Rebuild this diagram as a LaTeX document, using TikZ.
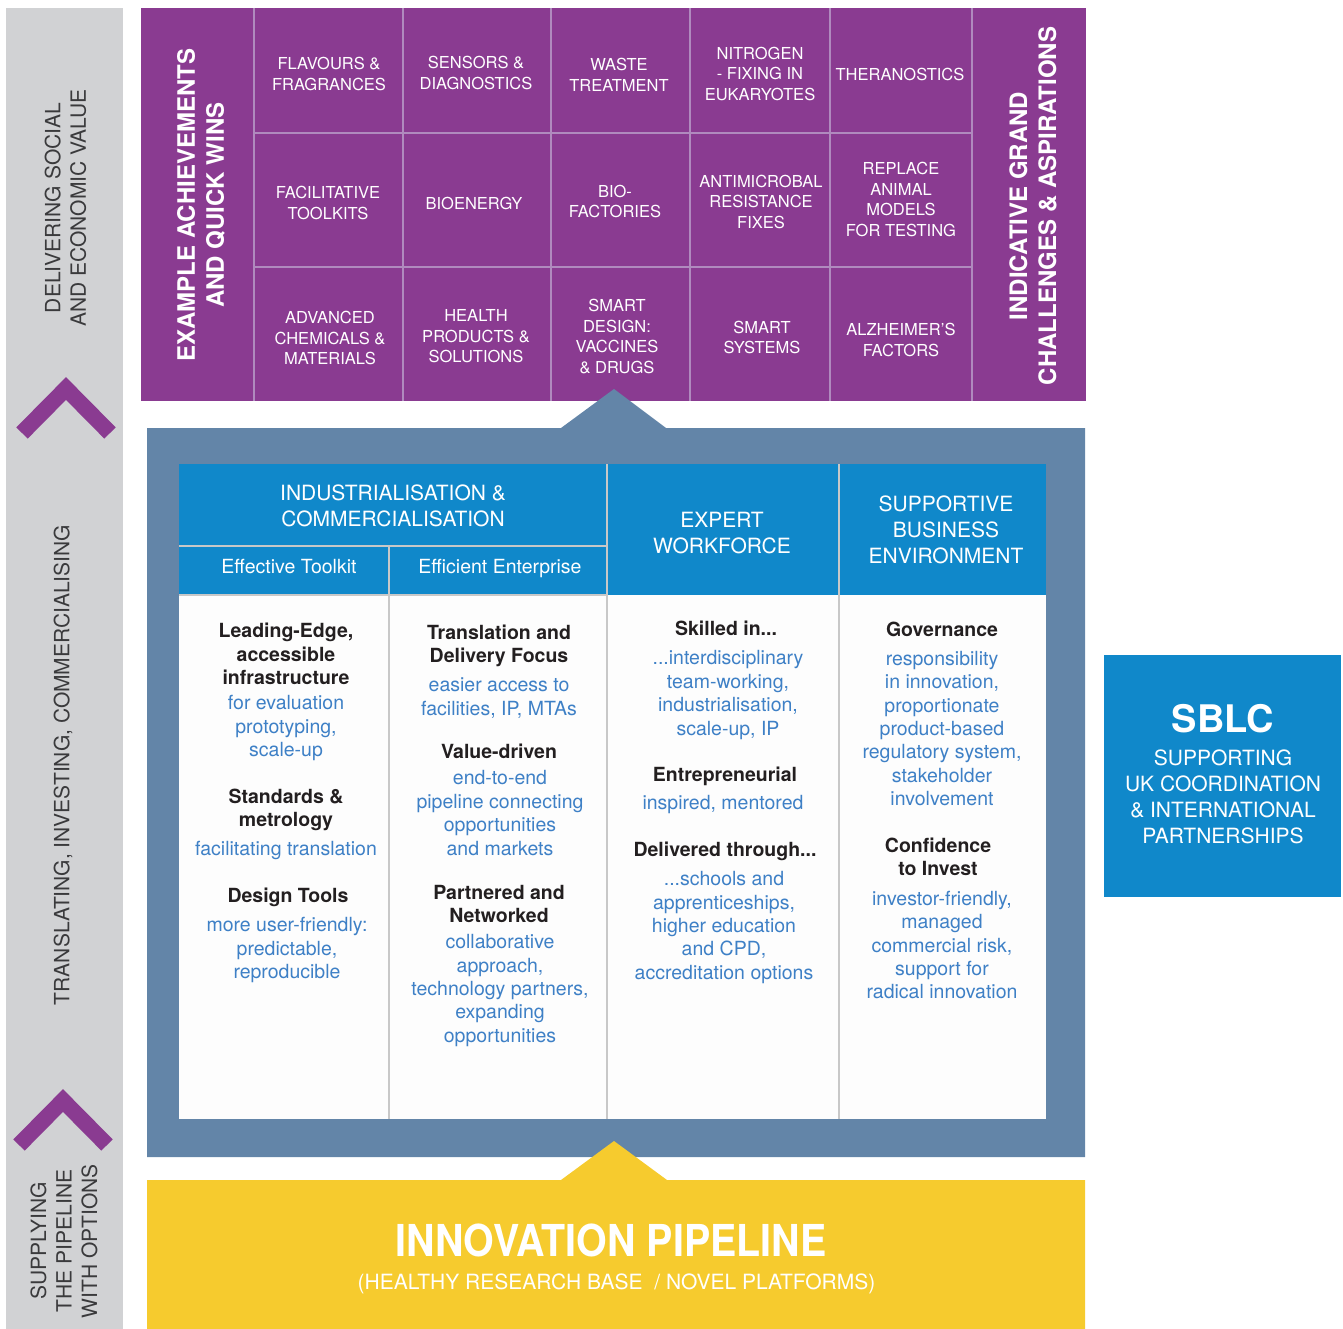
\documentclass[tikz,border=0pt]{standalone}
\usepackage{fontspec}
\setmainfont{TeX Gyre Heros}
\usepackage{tikz}
\definecolor{roadpurple}{RGB}{138,59,145}
\definecolor{roadline}{RGB}{176,138,190}
\definecolor{roadgray}{RGB}{209,210,212}
\definecolor{roadframe}{RGB}{99,133,168}
\definecolor{roadblue}{RGB}{16,136,202}
\definecolor{roadyellow}{RGB}{246,203,46}
\definecolor{roadtext}{RGB}{35,31,32}
\definecolor{roadlink}{RGB}{62,128,198}
\definecolor{roaddiv}{RGB}{200,200,200}
\definecolor{roadwhite}{RGB}{253,253,253}
\definecolor{striptext}{RGB}{58,58,60}

\begin{document}
\begin{tikzpicture}[x=1pt,y=-1pt,
	cell/.style={text=white, align=center, inner sep=0pt, font=\fontsize{16.5}{20.5}\selectfont},
	bigtitle/.style={text=white, align=center, inner sep=0pt, rotate=90, font=\bfseries\fontsize{24}{29}\selectfont},
	striplabel/.style={text=striptext, align=center, inner sep=0pt, rotate=90, font=\fontsize{21}{25.5}\selectfont},
	headtext/.style={text=white, align=center, inner sep=0pt, font=\fontsize{21}{26}\selectfont},
	subhead/.style={text=white, inner sep=0pt, font=\fontsize{19.5}{23}\selectfont},
	keyword/.style={text=roadtext, align=center, inner sep=0pt, font=\bfseries\fontsize{19.5}{23.5}\selectfont},
	detail/.style={text=roadlink, align=center, inner sep=0pt, font=\fontsize{19.5}{23.4}\selectfont},
	chevron/.style={draw=roadpurple, line width=16pt, miter limit=10},
]
\useasboundingbox (0,0) rectangle (1343,1329);

% Draw left strip
\fill[roadgray] (6,8) rectangle (123,1329);
\draw[chevron] (22,433) -- (66,388.5) -- (110,433);
\draw[chevron] (19,1145) -- (63,1100.5) -- (107,1145);
\node[striplabel] (deliver) at (65.5,208) {DELIVERING SOCIAL\\AND ECONOMIC VALUE};
\node[striplabel] (translate) at (63,765) {TRANSLATING, INVESTING, COMMERCIALISING};
\node[striplabel] (supply) at (64,1241) {SUPPLYING\\THE PIPELINE\\WITH OPTIONS};

% Draw achievements grid
\fill[roadpurple] (141,8) rectangle (1086,401);
\foreach \xline in {254,403,551,690,830,972}
	\draw[roadline, line width=2.5pt] (\xline,8) -- (\xline,401);
\foreach \yline in {133,267}
	\draw[roadline, line width=2.5pt] (254,\yline) -- (972,\yline);
\node[bigtitle] (quickwins) at (201,205) {EXAMPLE ACHIEVEMENTS\\AND QUICK WINS};
\node[bigtitle] (grand) at (1033,206) {INDICATIVE GRAND\\CHALLENGES \& ASPIRATIONS};

\node[cell] (flavours) at (329,74) {FLAVOURS \&\\FRAGRANCES};
\node[cell] (sensors) at (476,73) {SENSORS \&\\DIAGNOSTICS};
\node[cell] (waste) at (619,75) {WASTE\\TREATMENT};
\node[cell] (nitrogen) at (760,73.5) {NITROGEN\\- FIXING IN\\EUKARYOTES};
\node[cell] (theranostics) at (900,74) {THERANOSTICS};
\node[cell] (toolkits) at (328,203) {FACILITATIVE\\TOOLKITS};
\node[cell] (bioenergy) at (474,203) {BIOENERGY};
\node[cell] (biofactories) at (615,201.5) {BIO-\\FACTORIES};
\node[cell] (antimicrobal) at (761,201.5) {ANTIMICROBAL\\RESISTANCE\\FIXES};
\node[cell] (animal) at (901,199.5) {REPLACE\\ANIMAL\\MODELS\\FOR TESTING};
\node[cell] (chemicals) at (330,338) {ADVANCED\\CHEMICALS \&\\MATERIALS};
\node[cell] (health) at (476,336.5) {HEALTH\\PRODUCTS \&\\SOLUTIONS};
\node[cell] (smartdesign) at (617,336.5) {SMART\\DESIGN:\\VACCINES\\\& DRUGS};
\node[cell] (smartsys) at (762,337.5) {SMART\\SYSTEMS};
\node[cell] (alzheimer) at (901,340) {ALZHEIMER'S\\FACTORS};

% Draw frame
\fill[roadframe] (147,428) -- (561,428) -- (614,389) -- (666,428) -- (1085,428)
	-- (1085,1157) -- (147,1157) -- cycle;
\fill[roadwhite] (179,464) rectangle (1046,1119);
\fill[roadblue] (179,464) rectangle (1046,595);

% Draw dividers
\draw[roaddiv, line width=2.5pt] (179,546) -- (607,546);
\draw[roaddiv, line width=2.5pt] (179,595) -- (607,595);
\draw[roaddiv, line width=2.5pt] (389,546) -- (389,1119);
\draw[roaddiv, line width=2.5pt] (607,464) -- (607,1119);
\draw[roaddiv, line width=2.5pt] (839,464) -- (839,1119);

% Draw headers
\node[headtext] (industrial) at (393,506) {INDUSTRIALISATION \&\\COMMERCIALISATION};
\node[headtext] (expert) at (722,533) {EXPERT\\WORKFORCE};
\node[headtext] (supportive) at (946,530) {SUPPORTIVE\\BUSINESS\\ENVIRONMENT};
\node[subhead] (toolkit) at (289,567) {Effective Toolkit};
\node[subhead] (enterprise) at (500,568) {Efficient Enterprise};

% Column 1
\node[keyword] (leading) at (286,654) {Leading-Edge,\\accessible\\infrastructure};
\node[detail] (leadingtxt) at (286,728) {for evaluation\\prototyping,\\scale-up};
\node[keyword] (standards) at (286,810) {Standards \&\\metrology};
\node[detail] (standardstxt) at (286,850) {facilitating translation};
\node[keyword] (design) at (288,897) {Design Tools};
\node[detail] (designtxt) at (287,950) {more user-friendly:\\predictable,\\reproducible};

% Column 2
\node[keyword] (translation) at (499,646) {Translation and\\Delivery Focus};
\node[detail] (translationtxt) at (499,698) {easier access to\\facilities, IP, MTAs};
\node[keyword] (value) at (499,751) {Value-driven};
\node[detail] (valuetxt) at (500,813) {end-to-end\\pipeline connecting\\opportunities\\and markets};
\node[keyword] (partnered) at (499,904) {Partnered and\\Networked};
\node[detail] (partneredtxt) at (500,990.5) {collaborative\\approach,\\technology partners,\\expanding\\opportunities};

% Column 3
\node[keyword] (skilled) at (726,628) {Skilled in...};
\node[detail] (skilledtxt) at (728,695) {...interdisciplinary\\team-working,\\industrialisation,\\scale-up, IP};
\node[keyword] (entre) at (725,776) {Entrepreneurial};
\node[detail] (entretxt) at (723,805) {inspired, mentored};
\node[keyword] (delivered) at (725,851) {Delivered through...};
\node[detail] (deliveredtxt) at (724,927.5) {...schools and\\apprenticeships,\\higher education\\and CPD,\\accreditation options};

% Column 4
\node[keyword] (governance) at (942,629) {Governance};
\node[detail] (governancetxt) at (942,728.5) {responsibility\\in innovation,\\proportionate\\product-based\\regulatory system,\\stakeholder\\involvement};
\node[keyword] (confidence) at (938,857) {Confidence\\to Invest};
\node[detail] (confidencetxt) at (942,945) {investor-friendly,\\managed\\commercial risk,\\support for\\radical innovation};

% Draw pipeline
\fill[roadyellow] (147,1180) -- (561,1180) -- (614,1141) -- (667,1180) -- (1085,1180)
	-- (1085,1329) -- (147,1329) -- cycle;
\node[text=white, inner sep=0pt, font=\bfseries\fontsize{44}{44}\selectfont] (pipeline) at (611,1240)
	{\scalebox{0.895}[1]{INNOVATION PIPELINE}};
\node[text=white, inner sep=0pt, font=\fontsize{21}{21}\selectfont] (research) at (616.5,1284)
	{(HEALTHY RESEARCH BASE \ / NOVEL PLATFORMS)};

% Draw SBLC box
\fill[roadblue] (1104,655) rectangle (1341,897);
\node[text=white, inner sep=0pt, font=\bfseries\fontsize{38}{38}\selectfont] (sblc) at (1223,719) {SBLC};
\node[headtext] (coordination) at (1223,797) {SUPPORTING\\UK COORDINATION\\\& INTERNATIONAL\\PARTNERSHIPS};
\end{tikzpicture}
\end{document}
